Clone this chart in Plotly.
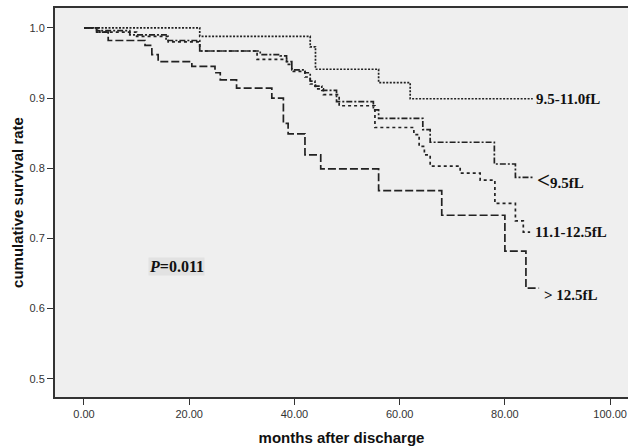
import plotly.graph_objects as go

# ---- data ----
t_95_110 = [0, 22, 43, 44, 56, 62, 85.3]
s_95_110 = [1.0, 0.988, 0.973, 0.941, 0.922, 0.899, 0.899]

t_lt95 = [0, 2.4, 8.7, 15.6, 22, 33.5, 37.3, 38.5, 39.5, 42, 43, 43.9, 45.2, 48, 55, 56, 64.4, 65.8, 78, 82, 85.4]
s_lt95 = [1.0, 0.996, 0.99, 0.982, 0.967, 0.962, 0.96, 0.952, 0.94, 0.936, 0.924, 0.917, 0.911, 0.895, 0.883, 0.871, 0.855, 0.837, 0.806, 0.787, 0.787]

t_111_125 = [0, 3, 10, 16, 22, 32.9, 38.5, 39.5, 42, 43, 44, 45.5, 48.5, 55.3, 62.7, 63.7, 64.7, 65.8, 71.5, 75.3, 78.1, 82, 83.5, 84.8]
s_111_125 = [1.0, 0.994, 0.988, 0.98, 0.967, 0.955, 0.948, 0.938, 0.93, 0.92, 0.913, 0.905, 0.889, 0.858, 0.848, 0.831, 0.819, 0.803, 0.793, 0.783, 0.75, 0.725, 0.709, 0.709]

t_gt125 = [0, 2.4, 4.6, 11.6, 12.9, 14.1, 20.5, 24.9, 25.9, 29, 35.7, 37.9, 38.8, 42, 45, 56, 68, 80, 84, 86.5]
s_gt125 = [1.0, 0.994, 0.982, 0.975, 0.962, 0.952, 0.945, 0.936, 0.926, 0.914, 0.900, 0.864, 0.849, 0.819, 0.799, 0.768, 0.733, 0.682, 0.629, 0.629]

x_ticks = [0, 20, 40, 60, 80, 100]
x_tick_labels = ["0.00", "20.00", "40.00", "60.00", "80.00", "100.00"]
y_ticks = [0.5, 0.6, 0.7, 0.8, 0.9, 1.0]
y_tick_labels = ["0.5", "0.6", "0.7", "0.8", "0.9", "1.0"]

series = [
    (t_95_110, s_95_110, "9.5-11.0fL", "2px,1.5px"),
    (t_lt95, s_lt95, "<9.5fL", "6px,2px,2px,2px"),
    (t_111_125, s_111_125, "11.1-12.5fL", "3px,3px"),
    (t_gt125, s_gt125, ">12.5fL", "8px,3px"),
]

fig = go.Figure()
for t, s, name, dash in series:
    fig.add_trace(go.Scatter(x=t, y=s, mode="lines", name=name, line_shape="hv",
                             line=dict(color="#222222", width=1.7, dash=dash),
                             showlegend=False, hoverinfo="skip"))

lab_font = dict(family="Liberation Serif, Times New Roman, serif", size=15, color="#111111")
labels = [
    (t_95_110[-1] + 0.3, s_95_110[-1], "<b>9.5-11.0fL</b>"),
    (t_lt95[-1] + 0.3, s_lt95[-1] - 0.004, "<b><span style='font-size:23px'>&lt;</span>9.5fL</b>"),
    (t_111_125[-1] + 0.6, s_111_125[-1], "<b>11.1-12.5fL</b>"),
    (t_gt125[-1] + 0.5, s_gt125[-1] - 0.01, "<b>&gt; 12.5fL</b>"),
]
for x, y, txt in labels:
    fig.add_annotation(x=x, y=y, text=txt, showarrow=False, xanchor="left", yanchor="middle",
                       font=lab_font)

fig.add_annotation(x=17.5, y=0.660, text="<b><i>P</i>=0.011</b>", showarrow=False,
                   font=dict(family="Liberation Serif, Times New Roman, serif", size=16, color="#111111"),
                   bgcolor="#e2e2e2", borderpad=0)

axis_font = dict(family="Liberation Sans, Arial, sans-serif", size=11, color="#333333")
title_font = dict(family="Liberation Sans, Arial, sans-serif", size=15, color="#111111")

fig.update_layout(
    width=629, height=446,
    margin=dict(l=55, r=1, t=8, b=49, autoexpand=False),
    paper_bgcolor="white",
    plot_bgcolor="#efefef",
    xaxis=dict(range=[-5.51, 103.4], tickvals=x_ticks, ticktext=x_tick_labels,
               ticks="outside", ticklen=6, tickwidth=1.2, tickcolor="#333333",
               showline=True, linecolor="#333333", linewidth=2, mirror=True,
               showgrid=False, zeroline=False, tickfont=axis_font, automargin=False,
               title=dict(text="<b>months after discharge</b>", font=title_font, standoff=13)),
    yaxis=dict(range=[0.474, 1.0283], tickvals=y_ticks, ticktext=y_tick_labels,
               ticks="outside", ticklen=6, tickwidth=1.2, tickcolor="#333333",
               showline=True, linecolor="#333333", linewidth=2, mirror=False,
               showgrid=False, zeroline=False, tickfont=axis_font, automargin=False,
               title=dict(text="<b>cumulative survival rate</b>", font=title_font, standoff=2)),
)

fig.write_html("out.html", config={"displayModeBar": False},
               post_script="document.body.style.margin='0px';document.body.style.overflow='hidden';")
